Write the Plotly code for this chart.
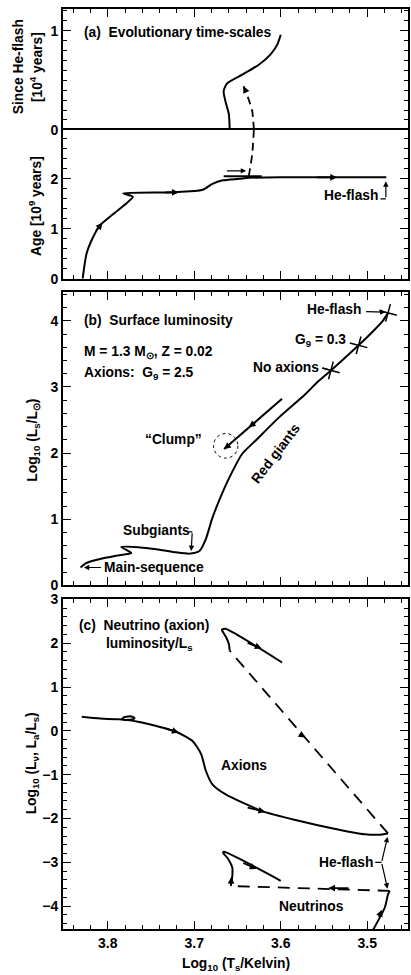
import plotly.graph_objects as go

# ---------------- data ----------------
X_RANGE = [3.8517, 3.4529]
X_TICKS = [3.8, 3.7, 3.6, 3.5]
X_TICK_LABELS = ["3.8", "3.7", "3.6", "3.5"]

# Panel (a): age [1e9 yr] vs log Ts
A_AGE_X = [3.829, 3.8245, 3.817, 3.809, 3.794, 3.779, 3.771, 3.782, 3.725, 3.690, 3.679, 3.667, 3.648, 3.637, 3.60, 3.55, 3.478]
A_AGE_Y = [0.0, 0.5, 0.83, 1.07, 1.29, 1.5, 1.64, 1.71, 1.73, 1.78, 1.9, 1.97, 2.0, 2.02, 2.03, 2.03, 2.03]
A_POST_X = [3.666, 3.622]
A_POST_Y = [2.05, 2.05]
A_DASH_LO_X = [3.637, 3.633, 3.631]
A_DASH_LO_Y = [2.05, 2.49, 3.0]
A_DASH_HI_X = [3.631, 3.633, 3.638, 3.643]
A_DASH_HI_Y = [0.0, 0.19, 0.33, 0.44]
A_SINCE_X = [3.659, 3.660, 3.664, 3.666, 3.662, 3.644, 3.625, 3.612, 3.604, 3.600]
A_SINCE_Y = [0.0, 0.16, 0.29, 0.39, 0.47, 0.56, 0.66, 0.76, 0.86, 0.96]

# Panel (b): log Ls/Lsun
B_X = [3.8314, 3.8245, 3.809, 3.790, 3.7728, 3.7843, 3.7594, 3.740, 3.721, 3.7057, 3.694, 3.6866,
       3.679, 3.6675, 3.656, 3.6445, 3.629, 3.602, 3.5716, 3.5563, 3.542, 3.510, 3.495, 3.482, 3.476]
B_Y = [0.27, 0.34, 0.40, 0.45, 0.49, 0.58, 0.57, 0.54, 0.50, 0.48, 0.52, 0.70,
       1.02, 1.40, 1.72, 1.99, 2.19, 2.54, 2.89, 3.09, 3.25, 3.63, 3.82, 4.0, 4.12]
B_CLUMP_X = [3.5985, 3.6655]
B_CLUMP_Y = [2.82, 2.06]
B_CLUMP_CENTER = [3.6636, 2.11]
B_CLUMP_RADIUS = [0.0141, 0.186]
B_STAR_X = [3.542, 3.510, 3.476]
B_STAR_Y = [3.25, 3.63, 4.12]

# Panel (c): log L_nu, L_a / Ls
C_AX_X = [3.830, 3.809, 3.790, 3.784, 3.781, 3.776, 3.771, 3.769, 3.772, 3.780, 3.785, 3.777, 3.765,
          3.7517, 3.721, 3.702, 3.692, 3.6866, 3.679, 3.6636, 3.6215, 3.5793, 3.541, 3.5026, 3.487, 3.476]
C_AX_Y = [0.32, 0.28, 0.265, 0.265, 0.31, 0.33, 0.32, 0.29, 0.26, 0.25, 0.26, 0.245, 0.21,
          0.15, -0.02, -0.23, -0.53, -0.91, -1.22, -1.45, -1.83, -2.05, -2.22, -2.36, -2.37, -2.34]
C_AX_DASH_X = [3.476, 3.659]
C_AX_DASH_Y = [-2.34, 1.83]
C_AX_POST_X = [3.659, 3.660, 3.663, 3.667, 3.668, 3.664, 3.5985]
C_AX_POST_Y = [1.83, 1.98, 2.13, 2.26, 2.31, 2.33, 1.56]
C_NU_X = [3.493, 3.4797, 3.476, 3.474]
C_NU_Y = [-4.53, -4.03, -3.73, -3.65]
C_NU_DASH_X = [3.474, 3.6578]
C_NU_DASH_Y = [-3.65, -3.54]
C_NU_POST_X = [3.6578, 3.656, 3.656, 3.662, 3.6667, 3.6655, 3.600]
C_NU_POST_Y = [-3.54, -3.31, -3.12, -2.89, -2.78, -2.76, -3.42]

# direction arrows: (axis, tail_x, tail_y, tip_x, tip_y)
ARROWS = [
    ("3", 3.815, 0.93, 3.806, 1.12),
    ("3", 3.735, 1.725, 3.718, 1.73),
    ("3", 3.56, 2.03, 3.535, 2.03),
    ("4", 3.640, 0.38, 3.643, 0.44),
    ("2", 3.628, 2.48, 3.637, 2.39),
    ("2", 3.660, 2.12, 3.6655, 2.06),
    ("", 3.735, 0.07, 3.718, -0.04),
    ("", 3.64, -1.74, 3.618, -1.85),
    ("", 3.578, -0.07, 3.5716, -0.15),
    ("", 3.64, 2.02, 3.622, 1.88),
    ("", 3.487, -4.28, 3.4832, -4.08),
    ("", 3.52, -3.59, 3.545, -3.585),
    ("", 3.6575, -3.50, 3.657, -3.33),
    ("", 3.645, -3.0, 3.628, -3.15),
]
# pointer arrows with visible shafts: (axis, tail_x, tail_y, tip_x, tip_y, head)
POINTERS = [
    ("3", 3.664, 2.16, 3.640, 2.16, 2),
    ("3", 3.4865, 1.60, 3.4785, 1.60, 0),
    ("3", 3.4785, 1.60, 3.4785, 1.95, 2),
    ("2", 3.503, 4.14, 3.479, 4.13, 2),
    ("2", 3.553, 3.29, 3.544, 3.26, 0),
    ("2", 3.7077, 0.81, 3.7023, 0.81, 0),
    ("2", 3.7023, 0.81, 3.7035, 0.52, 2),
    ("2", 3.806, 0.27, 3.8276, 0.27, 2),
    ("", 3.4925, -3.0, 3.4835, -3.0, 0),
    ("", 3.4835, -3.0, 3.4765, -2.42, 2),
    ("", 3.4835, -3.0, 3.4765, -3.60, 2),
]

# text labels: (axis, x, y, text, xanchor, angle)
LABELS = [
    ("4", 3.830, 0.98, "(a)  Evolutionary time-scales", "left", 0),
    ("3", 3.519, 1.66, "He-flash", "center", 0),
    ("2", 3.830, 4.0, "(b)  Surface luminosity", "left", 0),
    ("2", 3.830, 3.52, "M = 1.3 M<sub>⊙</sub>, Z = 0.02", "left", 0),
    ("2", 3.830, 3.20, "Axions:  G<sub>9</sub> = 2.5", "left", 0),
    ("2", 3.5046, 4.17, "He-flash", "right", 0),
    ("2", 3.522, 3.70, "G<sub>9</sub> = 0.3", "right", 0),
    ("2", 3.554, 3.30, "No axions", "right", 0),
    ("2", 3.7236, 2.20, "\u201cClump\u201d", "center", 0),
    ("2", 3.606, 2.0, "Red giants", "center", -53),
    ("2", 3.744, 0.83, "Subgiants", "center", 0),
    ("2", 3.746, 0.27, "Main-sequence", "center", 0),
    ("", 3.8356, 2.40, "(c)  Neutrino (axion)", "left", 0),
    ("", 3.8046, 1.98, "luminosity/L<sub>s</sub>", "left", 0),
    ("", 3.643, -0.80, "Axions", "center", 0),
    ("", 3.565, -4.0, "Neutrinos", "center", 0),
    ("", 3.524, -3.0, "He-flash", "center", 0),
]

# ---------------- figure ----------------
FONT = "Liberation Sans, Arial, sans-serif"
TXT = 13.8
fig = go.Figure()
LW = 2.0


def line(xs, ys, ax, dash="solid", width=LW):
    fig.add_trace(go.Scatter(x=xs, y=ys, mode="lines", xaxis="x" + ax, yaxis="y" + ax,
                             line=dict(color="black", width=width, dash=dash, shape="spline", smoothing=0.6),
                             hoverinfo="skip", showlegend=False))


line(A_AGE_X, A_AGE_Y, "3")
line(A_POST_X, A_POST_Y, "3")
line(A_DASH_LO_X, A_DASH_LO_Y, "3", dash="8px,5px", width=1.8)
line(A_DASH_HI_X, A_DASH_HI_Y, "4", dash="8px,5px", width=1.8)
line(A_SINCE_X, A_SINCE_Y, "4")
line(B_X, B_Y, "2")
line(B_CLUMP_X, B_CLUMP_Y, "2")
line(C_AX_X, C_AX_Y, "")
line(C_AX_DASH_X, C_AX_DASH_Y, "", dash="12px,8px", width=1.8)
line(C_AX_POST_X, C_AX_POST_Y, "")
line(C_NU_X, C_NU_Y, "")
line(C_NU_DASH_X, C_NU_DASH_Y, "", dash="12px,8px", width=1.8)
line(C_NU_POST_X, C_NU_POST_Y, "")

fig.add_trace(go.Scatter(x=B_STAR_X, y=B_STAR_Y, mode="markers", xaxis="x2", yaxis="y2",
                         marker=dict(symbol="cross-thin-open", size=13, angle=15, color="black",
                                     line=dict(color="black", width=1.5)),
                         hoverinfo="skip", showlegend=False))

# clump dotted circle
cx, cy = B_CLUMP_CENTER
rx, ry = B_CLUMP_RADIUS
fig.add_shape(type="circle", xref="x2", yref="y2", x0=cx - rx, x1=cx + rx, y0=cy - ry, y1=cy + ry,
              line=dict(color="black", width=1, dash="dot"))

for ax, tx, ty, hx, hy in ARROWS:
    fig.add_annotation(x=hx, y=hy, ax=tx, ay=ty, xref="x" + ax, yref="y" + ax,
                       axref="x" + ax, ayref="y" + ax, text="", showarrow=True,
                       arrowhead=2, arrowsize=0.75, arrowwidth=1.8, arrowcolor="black", standoff=0)
for ax, tx, ty, hx, hy, head in POINTERS:
    fig.add_annotation(x=hx, y=hy, ax=tx, ay=ty, xref="x" + ax, yref="y" + ax,
                       axref="x" + ax, ayref="y" + ax, text="", showarrow=True,
                       arrowhead=head, arrowsize=0.9, arrowwidth=1.2, arrowcolor="black", standoff=0)
for ax, x, y, t, xa, ang in LABELS:
    fig.add_annotation(x=x, y=y, xref="x" + ax, yref="y" + ax, text=t, showarrow=False,
                       xanchor=xa, yanchor="middle", textangle=ang,
                       font=dict(family=FONT, size=TXT, color="black", weight="bold"))

# axis titles (paper positions)
L_PX, R_PX, T_PX, B_PX = 63, 410, 8, 929
W = R_PX - L_PX
H = B_PX - T_PX


def px(xp):
    return (xp - L_PX) / W


def py(yp):
    return (B_PX - yp) / H


TITLES = [
    (19, 66, "Since He-flash", -90),
    (36, 66, "[10<sup>4</sup> years]", -90),
    (35, 205, "Age [10<sup>9</sup> years]", -90),
    (33, 440, "Log<sub>10</sub> (L<sub>s</sub>/L<sub>⊙</sub>)", -90),
    (32, 763, "Log<sub>10</sub> (L<sub>ν</sub>, L<sub>a</sub>/L<sub>s</sub>)", -90),
    (237, 965, "Log<sub>10</sub> (T<sub>s</sub>/Kelvin)", 0),
]
for xp_, yp_, t, ang in TITLES:
    fig.add_annotation(x=px(xp_), y=py(yp_), xref="paper", yref="paper", text=t, showarrow=False,
                       xanchor="center", yanchor="middle", textangle=ang,
                       font=dict(family=FONT, size=TXT, color="black", weight="bold"))

MINOR_X = dict(dtick=0.02, ticks="inside", ticklen=4, tickwidth=1.2, tickcolor="black")
xcommon = dict(range=X_RANGE, showline=True, linecolor="black", linewidth=2,
               ticks="inside", ticklen=8, tickwidth=1.3, tickcolor="black", tickvals=X_TICKS,
               ticktext=X_TICK_LABELS, minor=MINOR_X,
               showgrid=False, zeroline=False,
               tickfont=dict(family=FONT, size=14, color="black", weight="bold"))
ycommon = dict(showline=True, linecolor="black", linewidth=2, mirror="ticks",
               ticks="inside", ticklen=8, tickwidth=1.3, tickcolor="black",
               showgrid=False, zeroline=False,
               tickfont=dict(family=FONT, size=14, color="black", weight="bold"))


def ymin(d):
    return dict(dtick=d, ticks="inside", ticklen=4, tickwidth=1.2, tickcolor="black")


fig.update_layout(
    width=411, height=975,
    margin=dict(l=L_PX, r=411 - R_PX, t=T_PX, b=975 - B_PX),
    paper_bgcolor="white", plot_bgcolor="white",
    font=dict(family=FONT, size=14, color="black", weight="bold"),
    xaxis=dict(**xcommon, mirror="ticks", domain=[0, 1], anchor="y", showticklabels=True),
    yaxis=dict(**ycommon, domain=[0, py(599)], anchor="x", range=[-4.52, 3.0], dtick=1, minor=ymin(0.2)),
    xaxis2=dict(**xcommon, mirror="ticks", domain=[0, 1], anchor="y2", showticklabels=False),
    yaxis2=dict(**ycommon, domain=[py(585), py(291)], anchor="x2", range=[0, 4.44], dtick=1, minor=ymin(0.2)),
    xaxis3=dict(**xcommon, mirror=True, domain=[0, 1], anchor="y3", side="bottom", showticklabels=False),
    yaxis3=dict(**ycommon, domain=[py(278), py(129)], anchor="x3", range=[0, 2.98],
                tickvals=[0, 1, 2], minor=ymin(0.2)),
    xaxis4=dict(**xcommon, mirror=False, domain=[0, 1], anchor="y4", side="top", showticklabels=False),
    yaxis4=dict(**ycommon, domain=[py(129), 1], anchor="x4", range=[0, 1.22],
                tickvals=[0, 1], minor=ymin(0.1)),
)

fig.write_html("out.html")
